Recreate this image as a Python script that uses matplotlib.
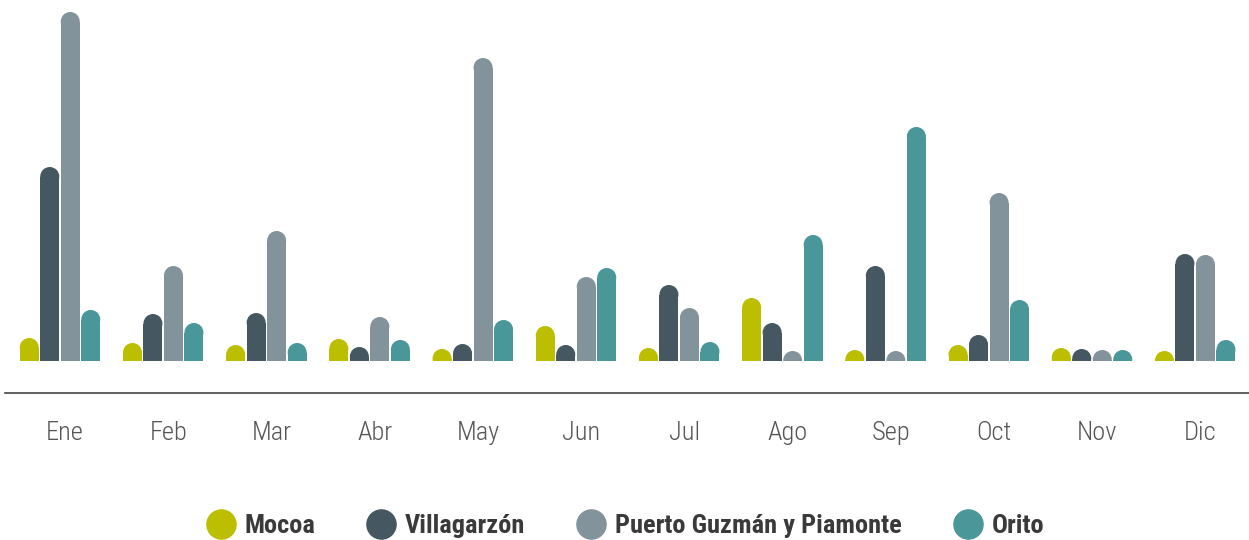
import numpy as np
import matplotlib
matplotlib.use('Agg')
from matplotlib import pyplot as plt
from matplotlib import font_manager as fm
from matplotlib.patches import Ellipse, Rectangle
from matplotlib.lines import Line2D

months = ['Ene', 'Feb', 'Mar', 'Abr', 'May', 'Jun', 'Jul', 'Ago', 'Sep', 'Oct', 'Nov', 'Dic']
series = ['Mocoa', 'Villagarzón', 'Puerto Guzmán y Piamonte', 'Orito']
mocoa = [23, 18, 16, 22, 12, 35, 13, 63, 11, 16, 13, 10]
villagarzon = [194, 47, 48, 14, 17, 16, 76, 38, 95, 26, 12, 107]
puerto = [349, 95, 130, 44, 303, 84, 53, 10, 10, 168, 11, 106]
orito = [51, 38, 18, 21, 41, 93, 19, 126, 234, 61, 11, 21]
colors = ['#bbbf00', '#455761', '#83939b', '#4a979a']

# look for a narrow font, fall back to DejaVu
names = {f.name for f in fm.fontManager.ttflist}
narrow = 'DejaVu Sans'
for cand in ['Roboto Condensed', 'Open Sans Condensed', 'Liberation Sans Narrow',
             'DejaVu Sans Condensed', 'Noto Sans Condensed']:
    if cand in names:
        narrow = cand
        break
stretch = 'normal'
if narrow == 'DejaVu Sans':
    cond = [f for f in fm.fontManager.ttflist if f.name == 'DejaVu Sans' and 'ondensed' in str(f.stretch)]
    if cond:
        stretch = 'condensed'

W, H = 1249, 540
fig = plt.figure(figsize=(W / 100, H / 100), dpi=100)
ax = fig.add_axes([0, 0, 1, 1])

# 1 y unit = 1 px, 1 x unit = group spacing
step = 103.2
base = 361
x0 = 60
ax.set_xlim(-x0 / step, (W - x0) / step)
ax.set_ylim(-(H - base), base)
ax.axis('off')

clip = Rectangle((-5, 0), 30, 1000, transform=ax.transData)

bw = 19 / step
off = 20.5 / step
r = 9.5
x = np.arange(len(months))
for k, (vals, c) in enumerate(zip([mocoa, villagarzon, puerto, orito], colors)):
    xs = x + (k - 1.5) * off
    for xi, v in zip(xs, vals):
        ax.bar(xi, max(v - r, 0), width=bw, color=c, linewidth=0)
        e = Ellipse((xi, max(v - r, 0)), bw, 2 * r, color=c, linewidth=0)
        ax.add_patch(e)
        e.set_clip_path(clip)

ax.axhline(-32, xmin=5 / W, xmax=1, color='#444444', lw=1.2)

for xi, m in zip(x, months):
    ax.text(xi + 0.05, -72, m, ha='center', va='center', fontsize=19, stretch=stretch,
            color='#555555', family=[narrow, 'DejaVu Sans'], fontweight='light')

handles = [Line2D([], [], marker='o', ls='none', markersize=21, color=c) for c in colors]
leg = fig.legend(handles, series, loc='center', bbox_to_anchor=(0.5, 1 - 526 / H), ncol=4,
                 frameon=False, handletextpad=0.3, columnspacing=1.9, handlelength=1.2,
                 prop={'family': [narrow, 'DejaVu Sans'], 'weight': 'bold', 'size': 19,
                       'stretch': stretch})
for t in leg.get_texts():
    t.set_color('#3a3a3a')

fig.savefig('out.png', dpi=100)
